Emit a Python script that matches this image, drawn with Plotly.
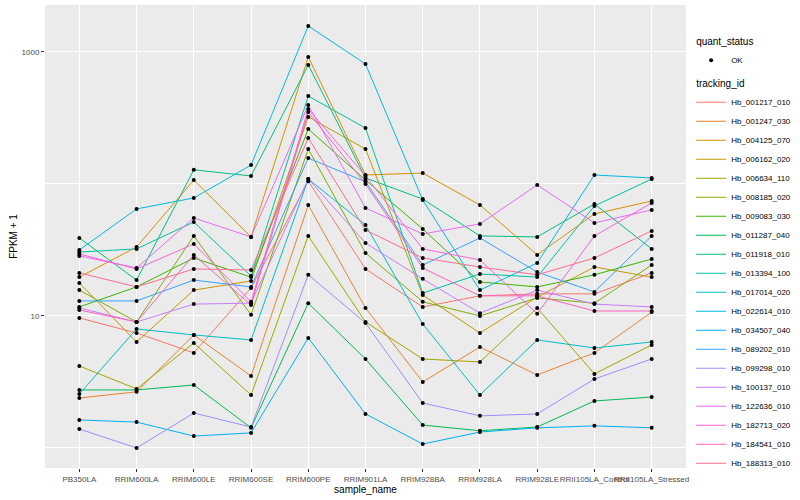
import plotly.graph_objects as go

samples = ["PB350LA", "RRIM600LA", "RRIM600LE", "RRIM600SE", "RRIM600PE", "RRIM901LA",
           "RRIM928BA", "RRIM928LA", "RRIM928LE", "RRII105LA_Control", "RRII105LA_Stressed"]

tracking_ids = ["Hb_001217_010", "Hb_001247_030", "Hb_004125_070", "Hb_006162_020",
                "Hb_006634_110", "Hb_008185_020", "Hb_009083_030", "Hb_011287_040",
                "Hb_011918_010", "Hb_013394_100", "Hb_017014_020", "Hb_022614_010",
                "Hb_034507_040", "Hb_089202_010", "Hb_099298_010", "Hb_100137_010",
                "Hb_122636_010", "Hb_182713_020", "Hb_184541_010", "Hb_188313_010"]

colors = ["#F8766D", "#EA8331", "#D89000", "#C09B00", "#A3A500", "#7CAE00", "#39B600",
          "#00BB4E", "#00BF7D", "#00C1A3", "#00BFC4", "#00BAE0", "#00B0F6", "#35A2FF",
          "#9590FF", "#C77CFF", "#E76BF3", "#FA62DB", "#FF62BC", "#FF6C91"]

# FPKM + 1 per sample (order of `samples`)
hb_001217_010 = [9.66, 7.43, 5.25, 16.3, 105, 22.7, 11.7, 14.2, 14.7, 14.7, 21.2]
hb_001247_030 = [2.39, 2.66, 7.18, 3.51, 69.3, 11.5, 3.16, 5.82, 3.57, 5.25, 10.7]
hb_004125_070 = [19.7, 33.3, 107, 39.7, 917, 117, 121, 69.3, 29.0, 59.3, 74.3]
hb_006162_020 = [17.8, 6.35, 15.7, 18.4, 322, 184, 14.4, 7.43, 13.9, 23.5, 19.7]
hb_006634_110 = [4.18, 2.80, 6.24, 2.52, 40.4, 9.01, 4.72, 4.48, 11.5, 3.64, 6.03]
hb_008185_020 = [15.7, 9.01, 40.4, 10.2, 184, 30.0, 12.8, 10.0, 13.7, 12.5, 24.3]
hb_009083_030 = [11.7, 16.6, 27.5, 19.7, 261, 107, 45.6, 18.1, 16.6, 20.5, 27.0]
hb_011287_040 = [2.75, 2.75, 3.00, 1.42, 12.5, 4.72, 1.49, 1.35, 1.44, 2.27, 2.43]
hb_011918_010 = [39.0, 18.7, 128, 115, 798, 111, 76.9, 40.4, 39.7, 70.5, 32.2]
hb_013394_100 = [30.5, 32.2, 51.5, 20.1, 464, 265, 14.9, 20.8, 19.7, 68.1, 109]
hb_017014_020 = [2.56, 7.97, 7.18, 6.58, 109, 48.9, 8.70, 2.52, 6.58, 5.72, 6.35]
hb_022614_010 = [31.6, 64.7, 78.3, 139, 1574, 811, 75.6, 15.7, 25.2, 117, 111]
hb_034507_040 = [1.63, 1.57, 1.23, 1.30, 6.81, 1.81, 1.07, 1.32, 1.42, 1.47, 1.42]
hb_089202_010 = [13.0, 13.0, 18.7, 16.6, 157, 104, 24.3, 39.0, 21.5, 15.2, 40.4]
hb_099298_010 = [1.39, 1.00, 1.84, 1.44, 20.5, 8.85, 2.19, 1.75, 1.81, 3.33, 4.72]
hb_100137_010 = [11.5, 9.01, 12.3, 12.5, 109, 35.7, 19.1, 10.5, 15.7, 12.3, 11.7]
hb_122636_010 = [28.5, 23.1, 55.3, 39.7, 396, 65.8, 41.8, 49.8, 98.3, 50.7, 63.6]
hb_182713_020 = [29.5, 22.7, 35.1, 12.8, 370, 115, 32.2, 26.6, 10.4, 40.4, 71.8]
hb_184541_010 = [11.1, 9.01, 29.0, 12.1, 351, 100, 23.1, 14.2, 14.2, 10.9, 10.9]
hb_188313_010 = [21.2, 16.6, 22.7, 22.3, 223, 44.8, 27.5, 23.5, 20.5, 27.5, 44.1]

series = [hb_001217_010, hb_001247_030, hb_004125_070, hb_006162_020, hb_006634_110,
          hb_008185_020, hb_009083_030, hb_011287_040, hb_011918_010, hb_013394_100,
          hb_017014_020, hb_022614_010, hb_034507_040, hb_089202_010, hb_099298_010,
          hb_100137_010, hb_122636_010, hb_182713_020, hb_184541_010, hb_188313_010]

FONT = "Liberation Sans"
fig = go.Figure()

for i, (tid, col, vals) in enumerate(zip(tracking_ids, colors, series)):
    fig.add_trace(go.Scatter(
        x=samples, y=vals, mode="lines", name=tid,
        line=dict(color=col, width=1),
        legendgroup="tid", legendrank=100 + i,
        legendgrouptitle=dict(text="tracking_id", font=dict(size=10, color="black", family=FONT)) if i == 0 else None,
        hoverinfo="skip",
    ))

all_x = [s for _ in series for s in samples]
all_y = [v for vals in series for v in vals]
fig.add_trace(go.Scatter(
    x=all_x, y=all_y, mode="markers", name="OK",
    marker=dict(color="black", size=4),
    legendgroup="qs", legendrank=1,
    legendgrouptitle=dict(text="quant_status", font=dict(size=10, color="black", family=FONT)),
))

fig.update_layout(
    width=800, height=500,
    margin=dict(l=45, r=114, t=5, b=32, autoexpand=False),
    paper_bgcolor="white", plot_bgcolor="#EBEBEB",
    font=dict(family=FONT, size=8, color="#4D4D4D"),
    showlegend=True,
    legend=dict(x=1.008, xanchor="left", y=0.953, yanchor="top",
                font=dict(size=8, color="black", family=FONT),
                tracegroupgap=4, bgcolor="rgba(255,255,255,0)", itemwidth=30),
    xaxis=dict(
        type="category", range=[-0.6, 10.6], tickangle=0, automargin=False,
        showgrid=True, gridcolor="white", gridwidth=1, zeroline=False, showline=False,
        ticks="outside", ticklen=3, tickcolor="#333333", tickwidth=1,
        tickfont=dict(size=8, color="#4D4D4D", family=FONT),
        title=dict(text="sample_name", font=dict(size=10, color="black", family=FONT), standoff=0),
    ),
    yaxis=dict(
        type="log", range=[-0.152, 3.356], automargin=False,
        tickvals=[10, 1000], ticktext=["10", "1000"],
        showgrid=True, gridcolor="white", gridwidth=1, zeroline=False, showline=False,
        ticks="outside", ticklen=3, tickcolor="#333333", tickwidth=1,
        tickfont=dict(size=8, color="#4D4D4D", family=FONT),
        minor=dict(tickvals=[1, 100], showgrid=True, gridcolor="white", gridwidth=0.6, ticks=""),
        title=dict(text="FPKM + 1", font=dict(size=10, color="black", family=FONT), standoff=2),
    ),
)

fig.write_html("out.html", config={"displayModeBar": False},
               post_script="document.body.style.margin='0';")
